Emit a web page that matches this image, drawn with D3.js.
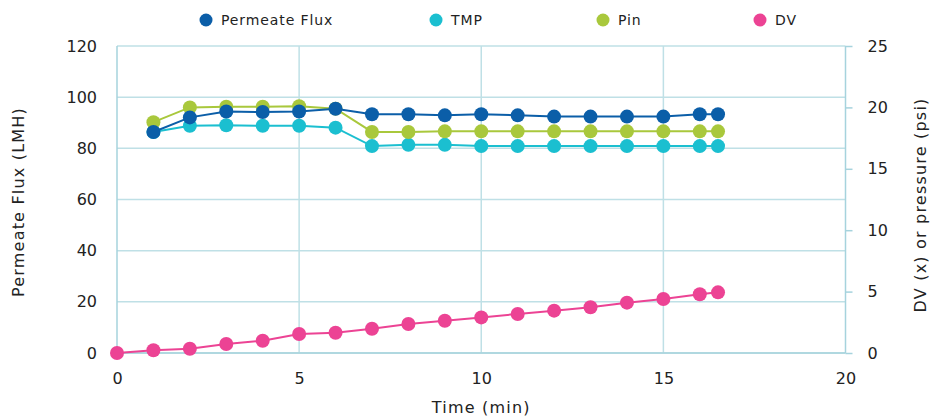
<!DOCTYPE html>
<html>
<head>
<meta charset="utf-8">
<script src="https://cdn.jsdelivr.net/npm/d3@7"></script>
<style>
  body { margin: 0; background: #fff; }
  svg { display: block; font-family: "DejaVu Sans", Verdana, sans-serif; }
</style>
</head>
<body>
<svg width="931" height="418"></svg>
<script>
// time points (min)
var timeFlux = [1, 2, 3, 4, 5, 6, 7, 8, 9, 10, 11, 12, 13, 14, 15, 16, 16.5];
var timeDV = [0, 1, 2, 3, 4, 5, 6, 7, 8, 9, 10, 11, 12, 13, 14, 15, 16, 16.5];

// left axis: permeate flux (LMH)
var flux = [86.4, 92.1, 94.4, 94.2, 94.4, 95.5, 93.3, 93.3, 92.9, 93.3, 92.9, 92.4, 92.4, 92.4, 92.4, 93.3, 93.3];
// right axis: psi / diavolumes
var tmp = [18.0, 18.5, 18.55, 18.5, 18.5, 18.35, 16.85, 16.95, 16.95, 16.85, 16.85, 16.85, 16.85, 16.85, 16.85, 16.85, 16.85];
var pin = [18.8, 20.0, 20.05, 20.05, 20.1, 19.9, 18.0, 18.0, 18.05, 18.05, 18.05, 18.05, 18.05, 18.05, 18.05, 18.05, 18.05];
var dv = [0, 0.22, 0.35, 0.73, 1.0, 1.55, 1.65, 1.98, 2.36, 2.63, 2.9, 3.18, 3.45, 3.72, 4.1, 4.4, 4.78, 4.94];

var legendNames = ["Permeate Flux", "TMP", "Pin", "DV"];
var colors = ["#0b5ea8", "#1bbfd0", "#a9c83c", "#ec4394"];

var svg = d3.select("svg");
var gridColor = "#bfe0e6",
    axisColor = "#a6d3dd",
    textColor = "#222";

var x = d3.scaleLinear().domain([0, 20]).range([117, 845.5]);
var yL = d3.scaleLinear().domain([0, 120]).range([353, 46]);
var yR = d3.scaleLinear().domain([0, 25]).range([353, 46]);

// grid
var grid = svg.append("g");
grid.selectAll("line.h")
    .data(yL.ticks(6))
    .enter().append("line")
    .attr("x1", x(0)).attr("x2", x(20))
    .attr("y1", function (d) { return yL(d); })
    .attr("y2", function (d) { return yL(d); })
    .style("stroke", gridColor).style("stroke-width", 1.5);
grid.selectAll("line.v")
    .data([0, 5, 10, 15, 20])
    .enter().append("line")
    .attr("y1", yL(0)).attr("y2", yL(120))
    .attr("x1", function (d) { return x(d); })
    .attr("x2", function (d) { return x(d); })
    .style("stroke", function (d) { return (d == 0 || d == 20) ? axisColor : gridColor; })
    .style("stroke-width", 1.5);
svg.append("line")
    .attr("x1", x(0)).attr("x2", x(20))
    .attr("y1", yL(0)).attr("y2", yL(0))
    .style("stroke", axisColor).style("stroke-width", 1.5);

// axes
var gLeft = svg.append("g")
    .attr("transform", "translate(" + x(0) + ",0)")
    .call(d3.axisLeft(yL).tickValues([0, 20, 40, 60, 80, 100, 120]).tickSize(0).tickPadding(20));
var gRight = svg.append("g")
    .attr("transform", "translate(" + x(20) + ",0)")
    .call(d3.axisRight(yR).tickValues([0, 5, 10, 15, 20, 25]).tickSize(7).tickPadding(15));
var gBottom = svg.append("g")
    .attr("transform", "translate(0," + yL(0) + ")")
    .call(d3.axisBottom(x).tickValues([0, 5, 10, 15, 20]).tickSize(0).tickPadding(20));

[gLeft, gRight, gBottom].forEach(function (g) {
    g.select(".domain").remove();
    g.selectAll("text").style("font-size", "16px").style("fill", textColor)
        .style("font-family", "'DejaVu Sans', Verdana, sans-serif");
    g.selectAll("line").style("stroke", axisColor).style("stroke-width", 1.5);
});

// titles (letter-spacing to get the wider look of the original font)
svg.append("text")
    .attr("transform", "translate(24,202) rotate(-90)")
    .attr("text-anchor", "middle")
    .style("font-size", "16px").style("fill", textColor)
    .style("letter-spacing", "1.2px")
    .text("Permeate Flux (LMH)");
svg.append("text")
    .attr("transform", "translate(926,205) rotate(-90)")
    .attr("text-anchor", "middle")
    .style("font-size", "16px").style("fill", textColor)
    .style("letter-spacing", "1.2px")
    .text("DV (x) or pressure (psi)");
svg.append("text")
    .attr("x", x(10)).attr("y", 413)
    .attr("text-anchor", "middle")
    .style("font-size", "16px").style("fill", textColor)
    .style("letter-spacing", "1.2px")
    .text("Time (min)");

// series
function drawSeries(xs, ys, yScale, color) {
    var pts = xs.map(function (t, i) { return [t, ys[i]]; });
    var line = d3.line()
        .x(function (d) { return x(d[0]); })
        .y(function (d) { return yScale(d[1]); });
    var g = svg.append("g");
    g.append("path")
        .datum(pts)
        .attr("d", line)
        .style("fill", "none")
        .style("stroke", color)
        .style("stroke-width", 2);
    g.selectAll("circle")
        .data(pts)
        .enter().append("circle")
        .attr("cx", function (d) { return x(d[0]); })
        .attr("cy", function (d) { return yScale(d[1]); })
        .attr("r", 7)
        .style("fill", color);
}

drawSeries(timeDV, dv, yR, colors[3]);
drawSeries(timeFlux, tmp, yR, colors[1]);
drawSeries(timeFlux, pin, yR, colors[2]);
drawSeries(timeFlux, flux, yL, colors[0]);

// legend
var legendX = [206, 436, 603, 760];
var legend = svg.append("g").selectAll("g")
    .data(legendNames)
    .enter().append("g")
    .attr("transform", function (d, i) { return "translate(" + legendX[i] + ",20)"; });
legend.append("circle")
    .attr("r", 6.5)
    .style("fill", function (d, i) { return colors[i]; });
legend.append("text")
    .attr("x", 15).attr("y", 5)
    .style("font-size", "14px").style("fill", textColor)
    .style("letter-spacing", "0.9px")
    .text(function (d) { return d; });
</script>
</body>
</html>
